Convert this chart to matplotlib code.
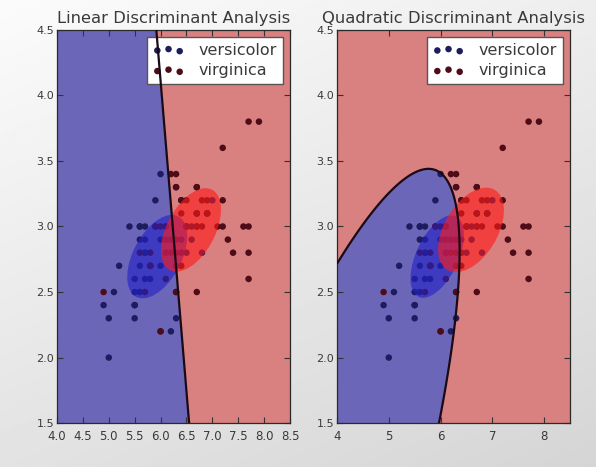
import numpy as np
import matplotlib
matplotlib.use("Agg")
import matplotlib.pyplot as plt
from matplotlib.colors import ListedColormap
from matplotlib.patches import Ellipse

# Iris sepal length / sepal width, versicolor and virginica
versicolor_len = [7.0, 6.4, 6.9, 5.5, 6.5, 5.7, 6.3, 4.9, 6.6, 5.2, 5.0, 5.9, 6.0, 6.1, 5.6,
                  6.7, 5.6, 5.8, 6.2, 5.6, 5.9, 6.1, 6.3, 6.1, 6.4, 6.6, 6.8, 6.7, 6.0, 5.7,
                  5.5, 5.5, 5.8, 6.0, 5.4, 6.0, 6.7, 6.3, 5.6, 5.5, 5.5, 6.1, 5.8, 5.0, 5.6,
                  5.7, 5.7, 6.2, 5.1, 5.7]
versicolor_wid = [3.2, 3.2, 3.1, 2.3, 2.8, 2.8, 3.3, 2.4, 2.9, 2.7, 2.0, 3.0, 2.2, 2.9, 2.9,
                  3.1, 3.0, 2.7, 2.2, 2.5, 3.2, 2.8, 2.5, 2.8, 2.9, 3.0, 2.8, 3.0, 2.9, 2.6,
                  2.4, 2.4, 2.7, 2.7, 3.0, 3.4, 3.1, 2.3, 3.0, 2.5, 2.6, 3.0, 2.6, 2.3, 2.7,
                  3.0, 2.9, 2.9, 2.5, 2.8]
virginica_len = [6.3, 5.8, 7.1, 6.3, 6.5, 7.6, 4.9, 7.3, 6.7, 7.2, 6.5, 6.4, 6.8, 5.7, 5.8,
                 6.4, 6.5, 7.7, 7.7, 6.0, 6.9, 5.6, 7.7, 6.3, 6.7, 7.2, 6.2, 6.1, 6.4, 7.2,
                 7.4, 7.9, 6.4, 6.3, 6.1, 7.7, 6.3, 6.4, 6.0, 6.9, 6.7, 6.9, 5.8, 6.8, 6.7,
                 6.7, 6.3, 6.5, 6.2, 5.9]
virginica_wid = [3.3, 2.7, 3.0, 2.9, 3.0, 3.0, 2.5, 2.9, 2.5, 3.6, 3.2, 2.7, 3.0, 2.5, 2.8,
                 3.2, 3.0, 3.8, 2.6, 2.2, 3.2, 2.8, 2.8, 2.7, 3.3, 3.2, 2.8, 3.0, 2.8, 3.0,
                 2.8, 3.8, 2.8, 2.8, 2.6, 3.0, 3.4, 3.1, 3.0, 3.1, 3.1, 3.1, 2.7, 3.2, 3.3,
                 3.0, 2.5, 3.0, 3.4, 3.0]
class_names = ["versicolor", "virginica"]
titles = ["Linear Discriminant Analysis", "Quadratic Discriminant Analysis"]
x_ticks_left = [4.0, 4.5, 5.0, 5.5, 6.0, 6.5, 7.0, 7.5, 8.0, 8.5]
x_ticks_right = [4, 5, 6, 7, 8]
y_ticks = [1.5, 2.0, 2.5, 3.0, 3.5, 4.0, 4.5]

X0 = np.column_stack([versicolor_len, versicolor_wid])
X1 = np.column_stack([virginica_len, virginica_wid])
m0, m1 = X0.mean(0), X1.mean(0)
C0 = np.cov(X0.T)
C1 = np.cov(X1.T)
Cp = (C0 + C1) / 2.0

REGION_BLUE = "#6c66b8"
REGION_RED = "#d98080"
PT_BLUE = "#1c1c5e"
PT_RED = "#4e0c18"
TXT = "#3a3a3a"

fig = plt.figure(figsize=(5.96, 4.67), dpi=100)
# photo-like gradient background
bg = fig.add_axes([0, 0, 1, 1], zorder=-10)
gy, gx = np.mgrid[0:1:200j, 0:1:200j]
grad = 0.985 - 0.15 * (0.65 * gy + 0.35 * gx)
bg.imshow(grad, cmap="gray", vmin=0, vmax=1, extent=[0, 1, 0, 1], aspect="auto", origin="upper")
bg.axis("off")


def score(P, m, C):
    inv = np.linalg.inv(C)
    d = P - m
    return -0.5 * np.log(np.linalg.det(C)) - 0.5 * np.einsum("ij,jk,ik->i", d, inv, d)


def ellipse(ax, mean, cov, color):
    v, w = np.linalg.eigh(cov)
    ang = np.degrees(np.arctan2(w[1, 1], w[0, 1]))
    e = Ellipse(mean, 2 * np.sqrt(v[1]), 2 * np.sqrt(v[0]), angle=ang,
                facecolor=color, edgecolor="none", alpha=0.62, zorder=4)
    ax.add_patch(e)


positions = [[0.0956, 0.094, 0.391, 0.842], [0.5654, 0.094, 0.391, 0.842]]
xx, yy = np.meshgrid(np.linspace(4.0, 8.5, 400), np.linspace(1.5, 4.5, 300))
P = np.column_stack([xx.ravel(), yy.ravel()])

for k in range(2):
    ax = fig.add_axes(positions[k])
    if k == 0:
        Z = score(P, m1, Cp) - score(P, m0, Cp)
        covs = (Cp, Cp)
        xt = x_ticks_left
    else:
        Z = score(P, m1, C1) - score(P, m0, C0)
        covs = (C0, C1)
        xt = x_ticks_right
    Z = Z.reshape(xx.shape)
    ax.pcolormesh(xx, yy, (Z > 0).astype(float), cmap=ListedColormap([REGION_BLUE, REGION_RED]),
                  vmin=0, vmax=1, shading="auto", zorder=1)
    ax.contour(xx, yy, Z, [0.0], colors="#1a0a14", linewidths=1.6, zorder=6)
    ax.scatter(X0[:, 0], X0[:, 1], s=22, color=PT_BLUE, edgecolors="none", zorder=3, label=class_names[0])
    ax.scatter(X1[:, 0], X1[:, 1], s=22, color=PT_RED, edgecolors="none", zorder=3, label=class_names[1])
    ellipse(ax, m0, covs[0], "#2222c8")
    ellipse(ax, m1, covs[1], "#ff1a1a")
    ax.set_xlim(4.0, 8.5)
    ax.set_ylim(1.5, 4.5)
    ax.set_xticks(xt)
    ax.set_yticks(y_ticks)
    ax.set_xticklabels([("%g" % t) if k == 1 else ("%.1f" % t) for t in xt])
    ax.set_yticklabels(["%.1f" % t for t in y_ticks])
    ax.tick_params(direction="in", top=True, right=True, colors="#333333",
                   labelcolor=TXT, length=4)
    ax.tick_params(axis="y", labelsize=8, pad=2)
    ax.tick_params(axis="x", labelsize=8.5, pad=5)
    for s in ax.spines.values():
        s.set_color("#2a2a2a")
        s.set_linewidth(0.9)
    ax.set_title(titles[k], fontsize=11.8, color=TXT, pad=5)
    leg = ax.legend(loc="upper right", scatterpoints=3, scatteryoffsets=[0.375, 0.5, 0.3125],
                    fontsize=11.5, frameon=True, fancybox=False, borderpad=0.35,
                    handletextpad=0.9, labelspacing=0.35, handlelength=2.0,
                    borderaxespad=0.45)
    leg.get_frame().set_edgecolor("#555555")
    leg.get_frame().set_alpha(1.0)
    for t in leg.get_texts():
        t.set_color(TXT)

fig.savefig("out.png", dpi=100)
